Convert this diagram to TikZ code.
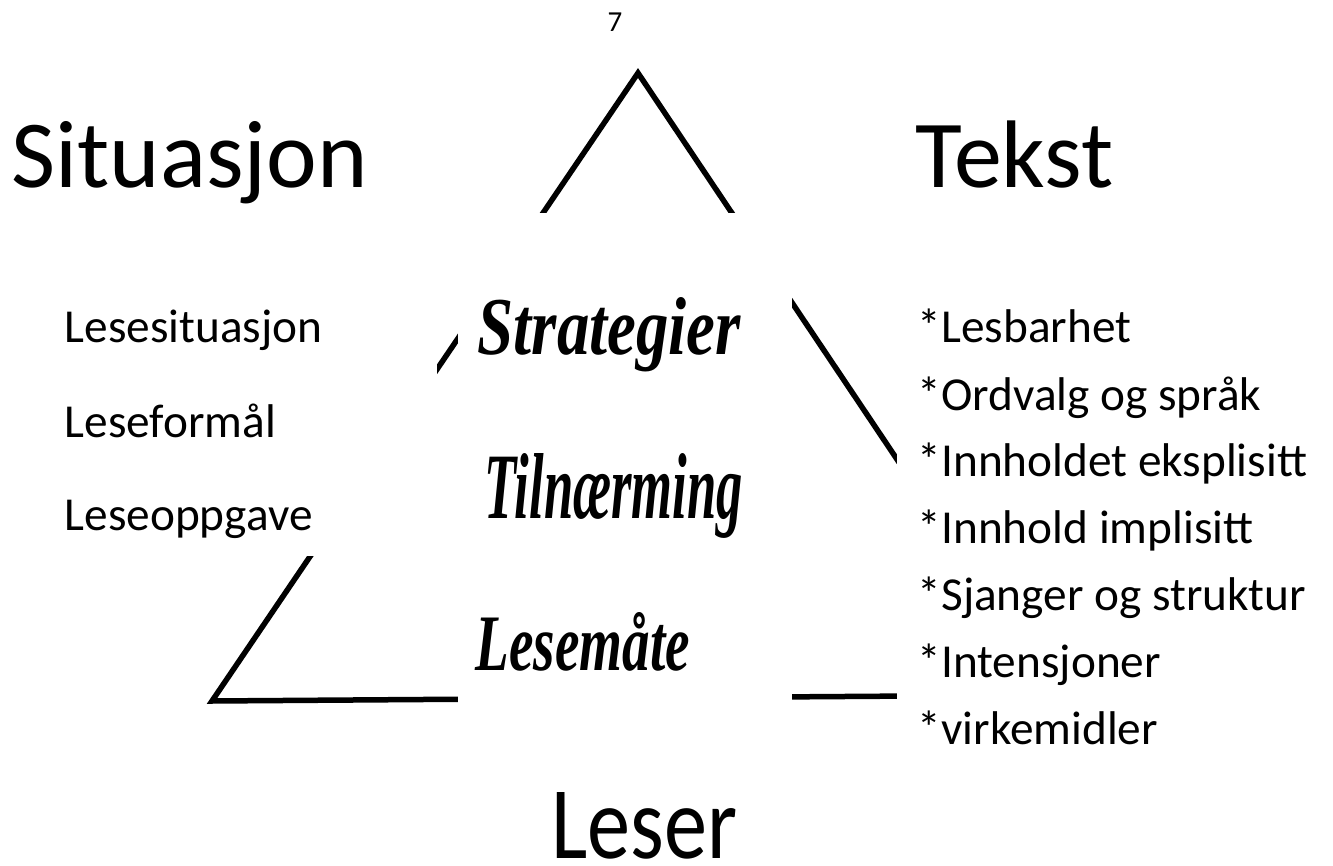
\documentclass[tikz,border=0pt]{standalone}
\usepackage{fontspec}
\setmainfont{Carlito}
\newfontfamily\handfont{Liberation Serif}
\begin{document}
\begin{tikzpicture}[x=1pt,y=-1pt, line width=5.5pt, line join=miter,
  big/.style={font=\fontsize{96}{110}\selectfont, inner sep=0pt},
  item/.style={font=\fontsize{47.3}{56}\selectfont, inner sep=0pt, anchor=base west},
  hand/.style={inner sep=0pt, anchor=base west, font=\handfont\bfseries\itshape},
  mask/.style={fill=white, draw=none}]
\useasboundingbox (0,0) rectangle (1333,866);
% triangle
\coordinate (A) at (638,73);
\coordinate (B) at (212,701);
\coordinate (C) at (1055,695);
\draw (A) -- (B) -- (C) -- cycle;
% text boxes covering the triangle
\fill[mask] (458,213) rectangle (792,740);
\fill[mask] (0,280) rectangle (437,556);
\fill[mask] (897,280) rectangle (1333,770);
% page number
\node[font=\fontsize{29}{34}\selectfont, inner sep=0pt, anchor=base] (page) at (615,32) {7};
% corner labels
\node[big, anchor=base west] (sit) at (9,188) {Situasjon};
\node[big, anchor=base west] (tekst) at (913,188) {Tekst};
\node[inner sep=0pt, anchor=base east] (leser) at (740,858)
  {\resizebox{186pt}{66pt}{\fontsize{96}{110}\selectfont Leser}};
% left list
\node[item] (l1) at (62,343) {Lesesituasjon};
\node[item] (l2) at (62,437) {Leseformål};
\node[item] (l3) at (62,530) {Leseoppgave};
% right list
\node[item] (r1) at (915,343) {*Lesbarhet};
\node[item] (r2) at (915,410) {*Ordvalg og språk};
\node[item] (r3) at (915,476) {*Innholdet eksplisitt};
\node[item] (r4) at (915,543) {*Innhold implisitt};
\node[item] (r5) at (915,610) {*Sjanger og struktur};
\node[item] (r6) at (915,677) {*Intensjoner};
\node[item] (r7) at (915,744) {*virkemidler};
% centre words
\node[hand] (h1) at (475,355) {\resizebox{263pt}{57pt}{Strategier}};
\node[hand] (h2) at (482,518) {\resizebox{258pt}{65pt}{Tilnærming}};
\node[hand] (h3) at (473,670) {\resizebox{214pt}{58pt}{Lesemåte}};
\end{tikzpicture}
\end{document}
